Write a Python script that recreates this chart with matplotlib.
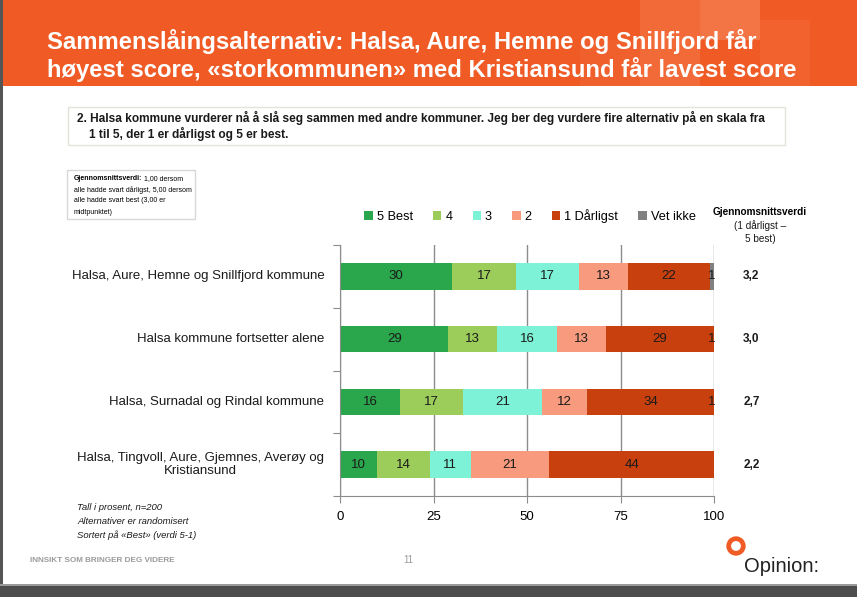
import matplotlib
matplotlib.use("Agg")
import matplotlib.pyplot as plt
from matplotlib.patches import Rectangle, Circle
import numpy as np

plt.rcParams['font.family'] = ['Liberation Sans', 'DejaVu Sans']

categories = [
    "Halsa, Aure, Hemne og Snillfjord kommune",
    "Halsa kommune fortsetter alene",
    "Halsa, Surnadal og Rindal kommune",
    "Halsa, Tingvoll, Aure, Gjemnes, Averøy og\nKristiansund",
]
series_names = ["5 Best", "4", "3", "2", "1 Dårligst", "Vet ikke"]
best5 = [30, 29, 16, 10]
val4 = [17, 13, 17, 14]
val3 = [17, 16, 21, 11]
val2 = [13, 13, 12, 21]
worst1 = [22, 29, 34, 44]
vet_ikke = [1, 1, 1, 0]
means = ["3,2", "3,0", "2,7", "2,2"]
xticks = [0, 25, 50, 75, 100]

colors = ["#2aa64c", "#9ccc5a", "#7ef2d6", "#f89a7e", "#c8400e", "#808080"]

W, H = 857, 597
fig = plt.figure(figsize=(W / 100, H / 100), dpi=100)
fig.patch.set_facecolor("white")

def fx(px):
    return px / W

def fy(py):
    return 1 - py / H

# background decorations (pixel coords)
bg = fig.add_axes([0, 0, 1, 1], zorder=-10)
bg.set_xlim(0, W)
bg.set_ylim(H, 0)
bg.axis("off")
bg.add_patch(Rectangle((0, 0), W, 86, color="#ef5a25", lw=0))
for (x0, y0, w, h, c) in [(640, 0, 60, 86, "#f26a38"), (700, 0, 60, 40, "#f37444"),
                          (760, 20, 50, 66, "#f1622f"), (580, 40, 60, 46, "#f0602c")]:
    bg.add_patch(Rectangle((x0, y0), w, h, color=c, lw=0))
bg.add_patch(Rectangle((0, 0), 3, H, color="#555555", lw=0))
bg.add_patch(Rectangle((0, 586), W, 11, color="#4d4d4d", lw=0))
bg.add_patch(Rectangle((0, 584), W, 2, color="#9a9a9a", lw=0))
# question box
bg.add_patch(Rectangle((68, 107), 717, 38, fill=False, ec="#e3e3d8", lw=1))
# note box
bg.add_patch(Rectangle((67, 170), 128, 49, fill=False, ec="#d8d8d8", lw=1))
# logo ring
bg.add_patch(Circle((736, 546), 7.3, fill=False, ec="#ef5a25", lw=3.4))

# title
fig.text(fx(47), fy(42), "Sammenslåingsalternativ: Halsa, Aure, Hemne og Snillfjord får",
         color="white", fontsize=17.2, fontweight="bold", va="center", ha="left")
fig.text(fx(47), fy(70), "høyest score, «storkommunen» med Kristiansund får lavest score",
         color="white", fontsize=17.2, fontweight="bold", va="center", ha="left")

# question
fig.text(fx(77), fy(118), "2. Halsa kommune vurderer nå å slå seg sammen med andre kommuner. Jeg ber deg vurdere fire alternativ på en skala fra",
         fontsize=8.6, fontweight="bold", va="center", ha="left", color="#1a1a1a")
fig.text(fx(89), fy(134), "1 til 5, der 1 er dårligst og 5 er best.",
         fontsize=8.6, fontweight="bold", va="center", ha="left", color="#1a1a1a")

# note box text
nfs = 5.0
tb = bg.text(74, 179, "Gjennomsnittsverdi:", fontsize=nfs, fontweight="bold", va="center", ha="left")
bg.annotate(" 1,00 dersom", xy=(1, 0.5), xycoords=tb, fontsize=nfs, va="center", ha="left")
bg.text(74, 190, "alle hadde svart dårligst, 5,00 dersom", fontsize=nfs, va="center", ha="left")
bg.text(74, 201, "alle hadde svart best (3,00 er", fontsize=nfs, va="center", ha="left")
bg.text(74, 212, "midtpunktet)", fontsize=nfs, va="center", ha="left")

# main axes
ax = fig.add_axes([fx(340), fy(496), fx(714) - fx(340), fy(245) - fy(496)])
y = np.arange(len(categories))
data = [best5, val4, val3, val2, worst1, vet_ikke]
left = np.zeros(len(categories))
for name, vals, c in zip(series_names, data, colors):
    vals = np.array(vals, dtype=float)
    ax.barh(y, vals, left=left, height=0.42, color=c, label=name, lw=0, zorder=2)
    for i, v in enumerate(vals):
        if v > 0:
            cx = left[i] + v / 2
            if name == "Vet ikke":
                cx = min(cx, 99.4)
            ax.text(cx, y[i], f"{int(v)}", ha="center", va="center", fontsize=9.5,
                    color="#1a1a1a", zorder=3, clip_on=False)
    left += vals

ax.set_xlim(0, 100)
ax.set_ylim(3.5, -0.5)
ax.set_xticks(xticks)
ax.set_xticklabels([str(t) for t in xticks], fontsize=9.5)
ax.xaxis.grid(True, color="#8c8c8c", lw=1, zorder=0)
ax.set_axisbelow(True)
for s in ["top", "right"]:
    ax.spines[s].set_visible(False)
ax.spines["left"].set_color("#8c8c8c")
ax.spines["bottom"].set_color("#8c8c8c")
ax.tick_params(axis="x", length=5, color="#8c8c8c", pad=6)
ax.set_yticks([-0.5, 0.5, 1.5, 2.5, 3.5], minor=False)
ax.set_yticklabels([])
ax.tick_params(axis="y", length=5, color="#8c8c8c")
for i, cat in enumerate(categories):
    ax.text(-4.2, y[i], cat, ha="right", va="center", fontsize=9.5, color="#1a1a1a",
            multialignment="center", linespacing=1.15)
    ax.text(110, y[i], means[i], ha="center", va="center", fontsize=8.5,
            fontweight="bold", color="#1a1a1a")

fig.legend(loc="center", bbox_to_anchor=(fx(530), fy(216)), ncol=6, frameon=False,
           fontsize=9.2, handlelength=0.65, handleheight=0.65, handletextpad=0.3,
           columnspacing=1.6)

fig.text(fx(760), fy(212), "Gjennomsnittsverdi", fontsize=7.2, fontweight="bold",
         ha="center", va="center")
fig.text(fx(760), fy(232), "(1 dårligst –\n5 best)", fontsize=7.2,
         ha="center", va="center", linespacing=1.3, color="#1a1a1a")

# footer notes
for i, t in enumerate(["Tall i prosent, n=200", "Alternativer er randomisert",
                       "Sortert på «Best» (verdi 5-1)"]):
    fig.text(fx(77), fy(508 + i * 13.5), t, fontsize=6.8, style="italic",
             ha="left", va="center", color="#1a1a1a")
fig.text(fx(30), fy(560), "INNSIKT SOM BRINGER DEG VIDERE", fontsize=5.9,
         fontweight="bold", color="#9a9a9a", ha="left", va="center")
fig.text(fx(408), fy(560), "11", fontsize=7, color="#9a9a9a", ha="center", va="center")
fig.text(fx(744), fy(566), "Opinion:", fontsize=14.5, color="#222222", ha="left", va="center")

fig.savefig("out.png", dpi=100, facecolor="white")
